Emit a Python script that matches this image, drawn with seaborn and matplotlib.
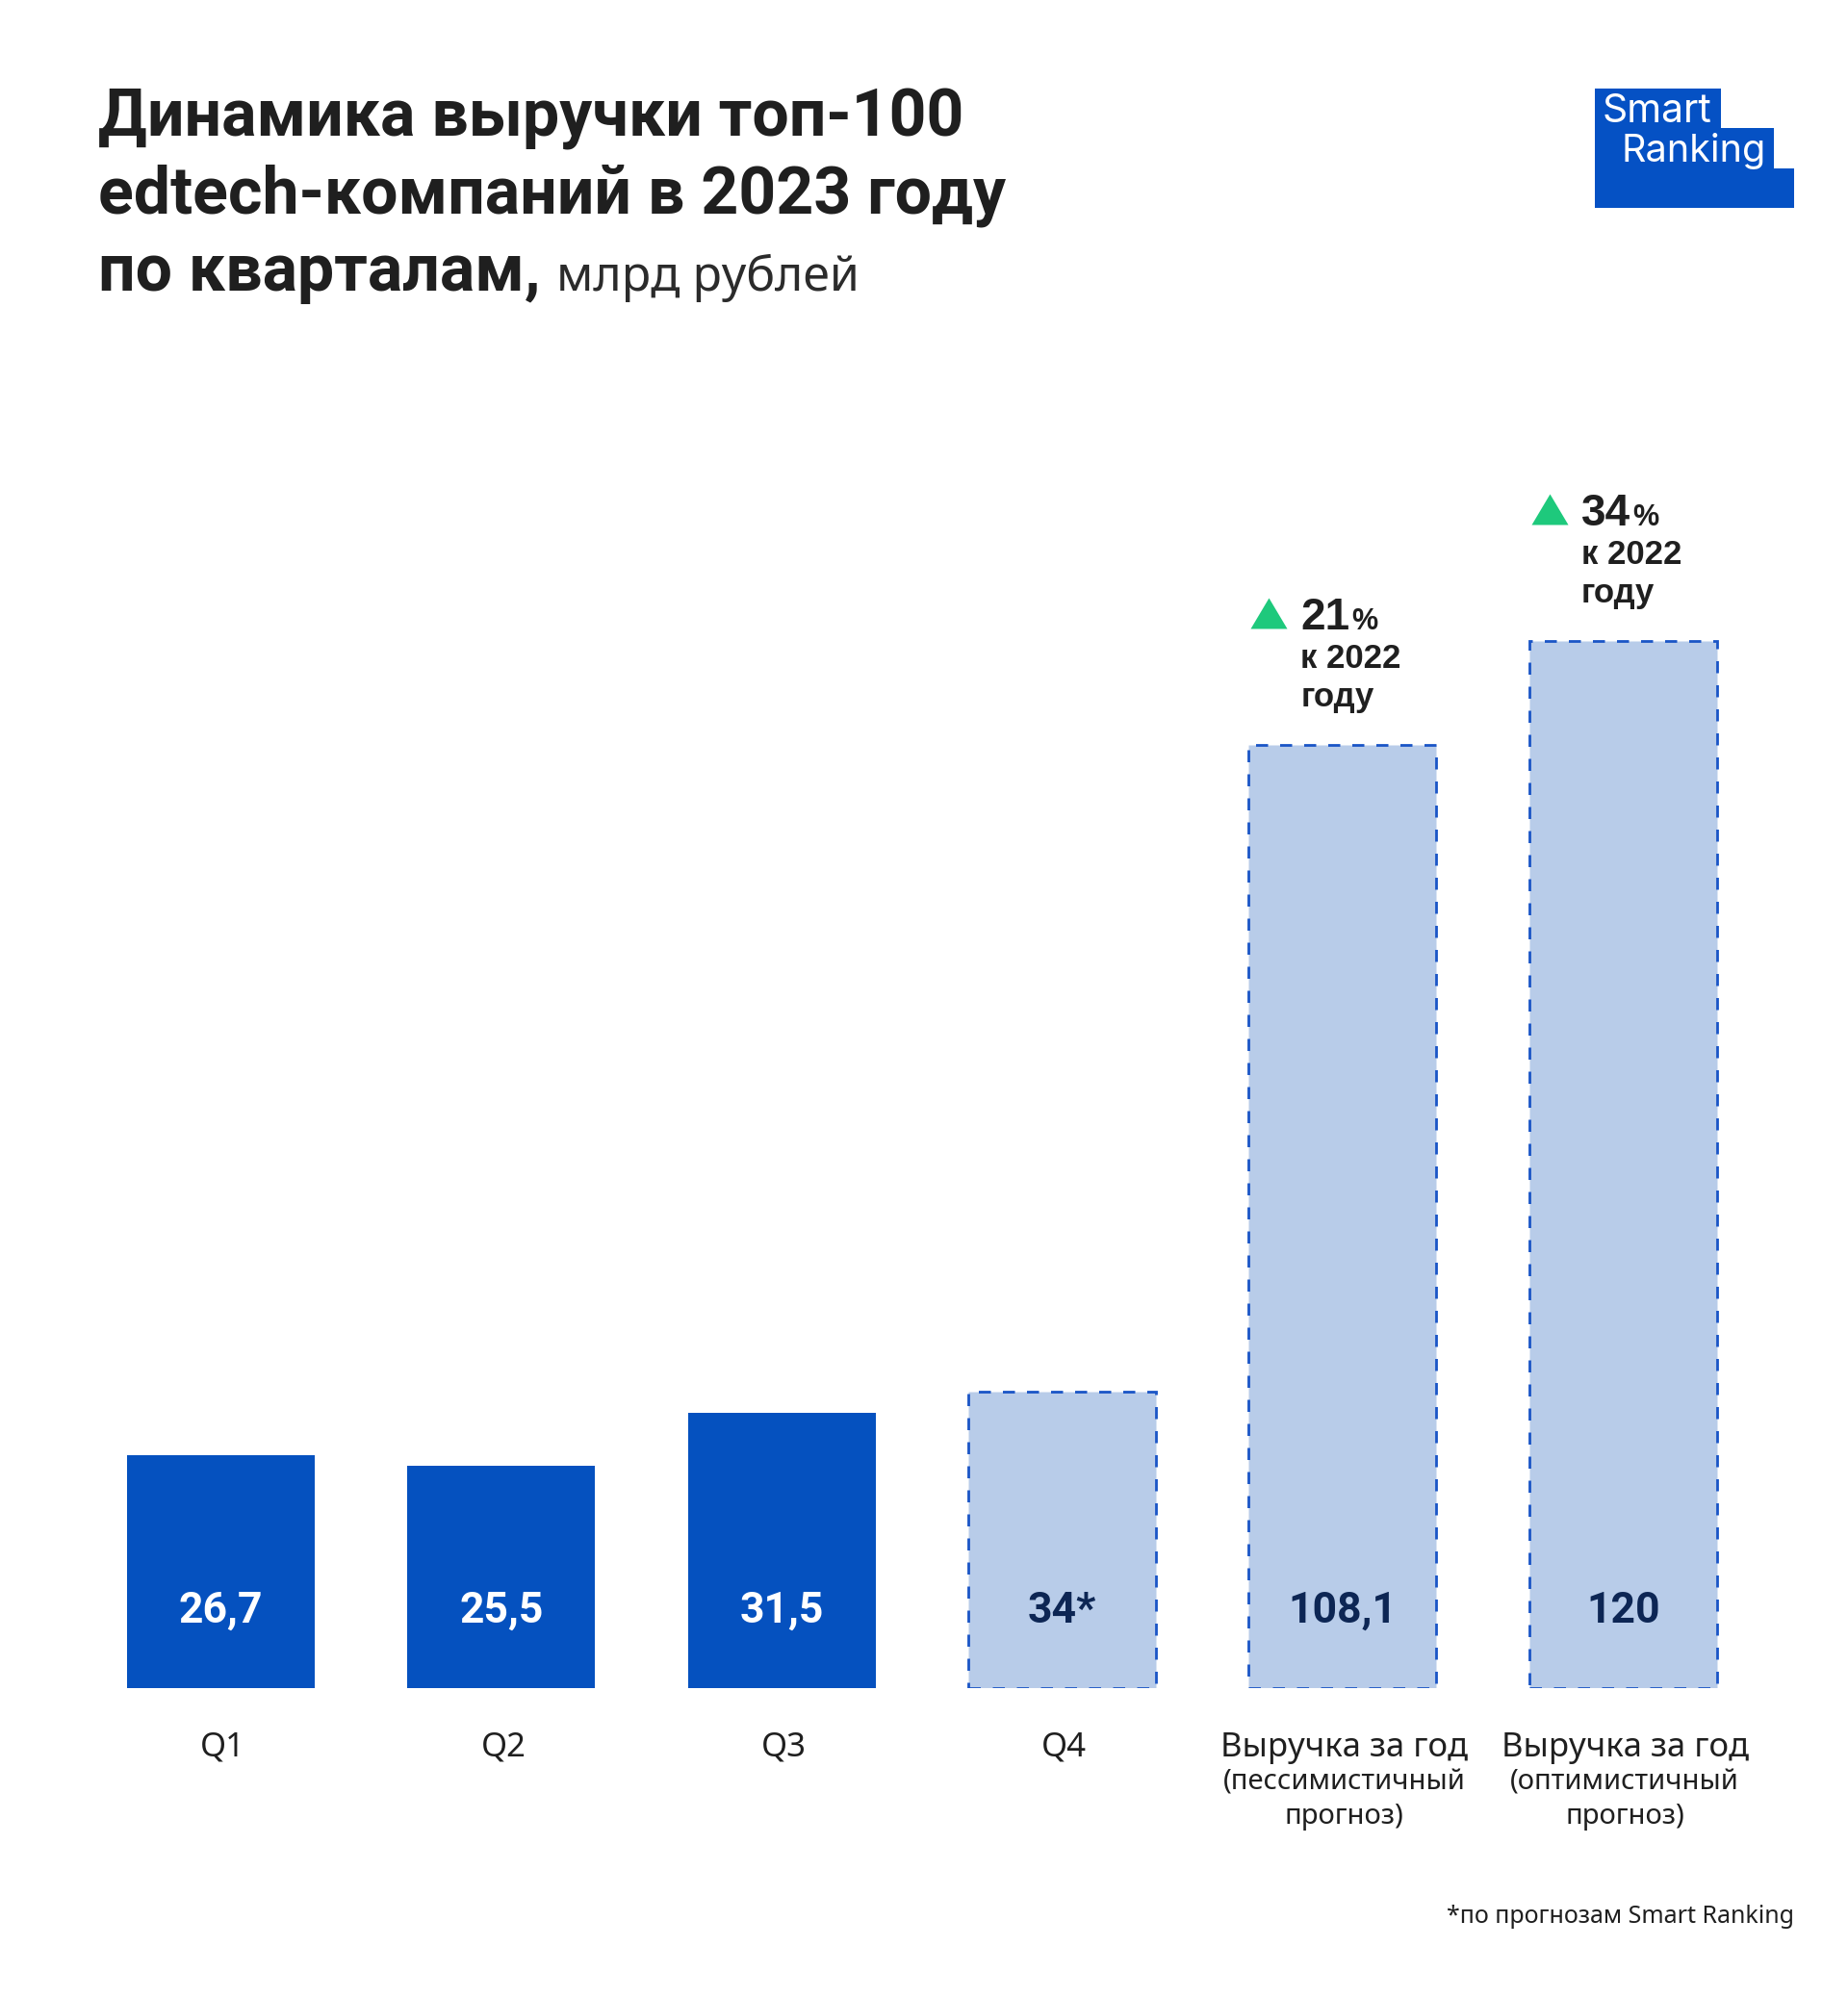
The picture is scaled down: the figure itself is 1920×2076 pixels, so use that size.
import matplotlib
matplotlib.use('Agg')
import matplotlib.pyplot as plt
from matplotlib.patches import Polygon
from matplotlib.transforms import offset_copy
import pandas as pd
import seaborn as sns

# данные
categories = ['Q1', 'Q2', 'Q3', 'Q4',
              'Выручка за год\n(пессимистичный\nпрогноз)',
              'Выручка за год\n(оптимистичный\nпрогноз)']
values = [26.7, 25.5, 31.5, 34, 108.1, 120]
value_labels = ['26,7', '25,5', '31,5', '34*', '108,1', '120']
is_forecast = [False, False, False, True, True, True]
growth_pct = ['', '', '', '', '21', '34']

# цвета
DARK_BLUE = '#0551bf'
LIGHT_BLUE = '#b8cce9'
EDGE_BLUE = '#1a55c6'
NAVY = '#0d2654'
GREEN = '#1ec97c'
TEXT = '#1f1f1f'

W, H = 1920, 2076
PX_PER_UNIT = 9.07

sns.set_theme(style='white')
plt.rcParams['font.family'] = ['Noto Sans', 'DejaVu Sans']
BOLD_FONT = ['Roboto', 'DejaVu Sans']

fig = plt.figure(figsize=(W / 100, H / 100), dpi=100)
fig.patch.set_facecolor('white')
ax = fig.add_axes([83.9 / W, (H - 1754) / H, 1748 / W, 135 * PX_PER_UNIT / H])

df = pd.DataFrame({'cat': categories, 'value': values})
bar_colors = [LIGHT_BLUE if f else DARK_BLUE for f in is_forecast]
sns.barplot(data=df, x='cat', y='value', hue='cat', palette=bar_colors,
            width=0.669, saturation=1, legend=False, ax=ax)

for cont, f in zip(ax.containers, is_forecast):
    for p in cont.patches:
        if f:
            p.set_edgecolor(EDGE_BLUE)
            p.set_linestyle((0, (4.5, 4.5)))
            p.set_linewidth(2.0)
        else:
            p.set_linewidth(0)

# подписи значений внутри столбцов
for i, txt in enumerate(value_labels):
    ax.annotate(txt, xy=(i, 0), xytext=(0, 68), textcoords='offset pixels',
                ha='center', va='baseline', fontsize=32, fontweight='bold',
                family=BOLD_FONT, color=NAVY if is_forecast[i] else 'white')

# подписи категорий (каждая строка отдельно)
for i, cat in enumerate(categories):
    lines = cat.split('\n')
    ax.annotate(lines[0], xy=(i, 0), xytext=(2, -71), textcoords='offset pixels',
                ha='center', va='baseline', fontsize=25, color=TEXT,
                annotation_clip=False)
    for k, line in enumerate(lines[1:]):
        ax.annotate(line, xy=(i, 0), xytext=(2, -106 - 35 * k),
                    textcoords='offset pixels', ha='center', va='baseline',
                    fontsize=21, color=TEXT, annotation_clip=False)

# прирост к 2022 году
tri = [(-1, -0.84), (1, -0.84), (0, 0.84)]
ann_font = ['Liberation Sans', 'DejaVu Sans']
renderer = fig.canvas.get_renderer()
for i, g in enumerate(growth_pct):
    if not g:
        continue
    left = i - 0.669 / 2
    top = values[i]
    tr = offset_copy(ax.transData, fig=fig, x=21, y=137, units='dots')
    ax.plot([left], [top], marker=tri, ms=27.4, mew=0, color=GREEN,
            transform=tr, clip_on=False)
    t = ax.annotate(g, xy=(left, top), xytext=(54, 120), textcoords='offset pixels',
                    ha='left', va='baseline', fontsize=33, fontweight='bold',
                    family=ann_font, color=TEXT, annotation_clip=False)
    w = t.get_window_extent(renderer).width
    ax.annotate('%', xy=(left, top), xytext=(54 + w + 2, 120), textcoords='offset pixels',
                ha='left', va='baseline', fontsize=22, fontweight='bold',
                family=ann_font, color=TEXT, annotation_clip=False)
    ax.annotate('к 2022', xy=(left, top), xytext=(54, 80), textcoords='offset pixels',
                ha='left', va='baseline', fontsize=25, fontweight='bold',
                family=ann_font, color=TEXT, annotation_clip=False)
    ax.annotate('году', xy=(left, top), xytext=(54, 40), textcoords='offset pixels',
                ha='left', va='baseline', fontsize=25, fontweight='bold',
                family=ann_font, color=TEXT, annotation_clip=False)

ax.set_xlim(-0.5, 5.5)
ax.set_ylim(0, 135)
ax.set_xticks([])
ax.set_yticks([])
ax.set_xlabel('')
ax.set_ylabel('')
sns.despine(ax=ax, left=True, bottom=True)
ax.set_facecolor('none')

# заголовок
fig.text(102 / W, 1 - 142 / H, 'Динамика выручки топ-100', fontsize=49,
         fontweight='bold', family=BOLD_FONT, va='baseline', color=TEXT)
fig.text(102 / W, 1 - 221 / H, 'edtech-компаний в 2023 году', fontsize=49,
         fontweight='bold', family=BOLD_FONT, va='baseline', color=TEXT)
t3 = fig.text(102 / W, 1 - 302 / H, 'по кварталам,', fontsize=49,
              fontweight='bold', family=BOLD_FONT, va='baseline', color=TEXT)
bb = t3.get_window_extent(renderer)
fig.text((bb.x1 + 16) / W, 1 - 302 / H, 'млрд рублей', fontsize=36,
         va='baseline', color='#2b2b2b')

# логотип
logo = [(1657, 92), (1788, 92), (1788, 133), (1843, 133), (1843, 175),
        (1864, 175), (1864, 216), (1657, 216)]
fig.patches.append(Polygon([(x / W, 1 - y / H) for x, y in logo], closed=True,
                           facecolor='#0551c4', edgecolor='none',
                           transform=fig.transFigure, figure=fig))
logo_font = ['Inter', 'DejaVu Sans']
fig.text(1665 / W, 1 - 127 / H, 'Smart', fontsize=29.5, color='white',
         family=logo_font, va='baseline')
fig.text(1684 / W, 1 - 168 / H, 'Ranking', fontsize=28.5, color='white',
         family=logo_font, va='baseline')

# сноска
fig.text(1864 / W, 1 - 1998 / H, '*по прогнозам Smart Ranking', fontsize=18,
         ha='right', va='baseline', color=TEXT)

fig.savefig('out.png', dpi=100, facecolor='white')
